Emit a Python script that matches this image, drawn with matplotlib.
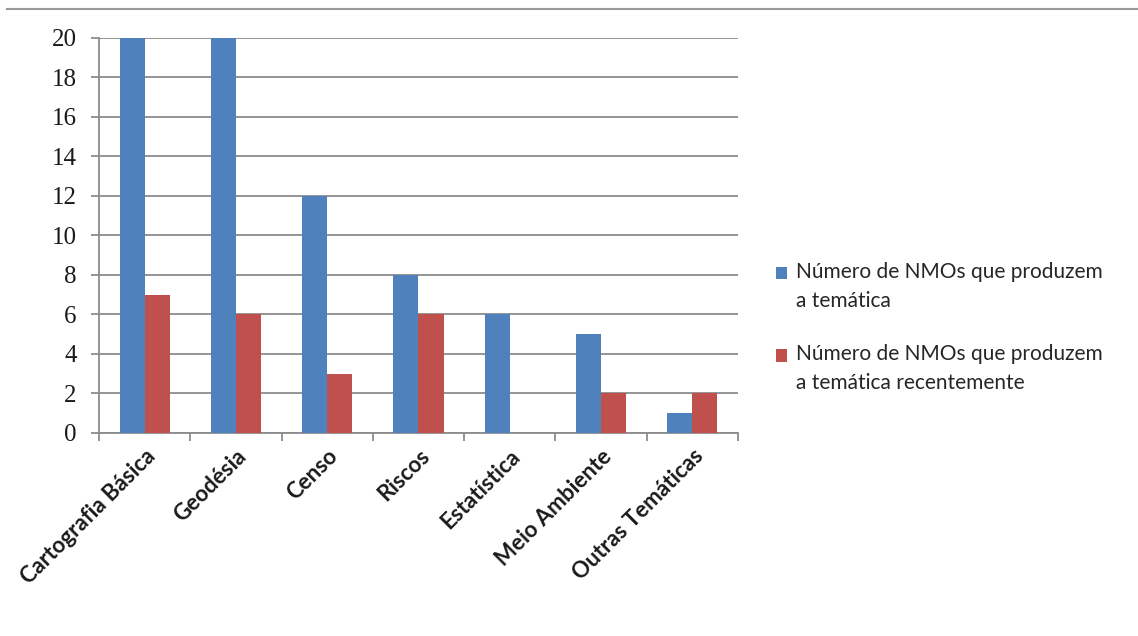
import numpy as np
import matplotlib.pyplot as plt
from matplotlib.patches import Patch, Rectangle
from matplotlib.lines import Line2D
from matplotlib.legend_handler import HandlerPatch

# Data
categories = ['Cartografia Básica', 'Geodésia', 'Censo', 'Riscos', 'Estatística',
              'Meio Ambiente', 'Outras Temáticas']
produzem = [20, 20, 12, 8, 6, 5, 1]
recentemente = [7, 6, 3, 6, 0, 2, 2]
legend_labels = ['Número de NMOs que produzem\na temática',
                 'Número de NMOs que produzem\na temática recentemente']

blue = '#4F81BD'
red = '#C0504D'
grid_gray = '#8c8c8c'


def top_square(legend, orig_handle, xdescent, ydescent, width, height, fontsize):
    # square next to the first line of a two-line label
    return Rectangle((-xdescent, -ydescent + 0.68 * fontsize), width, height)


fig = plt.figure(figsize=(11.38, 6.36), dpi=100)
ax = fig.add_axes([0.087, 0.3192, 0.5615, 0.6211])

x = np.arange(len(categories))
w = 0.275
ax.bar(x - w / 2, produzem, w, color=blue, zorder=3)
ax.bar(x + w / 2, recentemente, w, color=red, zorder=3)

ax.set_xlim(-0.5, len(categories) - 0.5)
ax.set_ylim(0, 20)
ax.set_yticks(np.arange(0, 21, 2))
ax.yaxis.grid(True, color=grid_gray, linewidth=1.3, zorder=0)

for s in ['top', 'right']:
    ax.spines[s].set_visible(False)
for s in ['left', 'bottom']:
    ax.spines[s].set_color(grid_gray)
    ax.spines[s].set_linewidth(1.3)

ax.tick_params(axis='y', length=6, color=grid_gray, width=1.3, pad=10)
for lab in ax.get_yticklabels():
    lab.set_fontfamily('Liberation Serif')
    lab.set_fontsize(18)
    lab.set_color('#1a1a1a')

# category labels at centres, tick marks at boundaries
ax.set_xticks(x)
ax.set_xticklabels(categories, rotation=45, ha='right', rotation_mode='anchor',
                   fontfamily='Lato', fontweight='bold',
                   fontsize=16, color='#1a1a1a')
ax.tick_params(axis='x', which='major', length=0, pad=9)
ax.set_xticks(np.arange(-0.5, len(categories), 1), minor=True)
ax.tick_params(axis='x', which='minor', length=6, color=grid_gray, width=1.3)

handles = [Patch(facecolor=blue), Patch(facecolor=red)]
leg = fig.legend(handles, legend_labels, loc='upper left', bbox_to_anchor=(0.665, 0.617),
                 frameon=False, prop={'family': 'Lato', 'size': 15},
                 handlelength=0.55, handleheight=0.55, handletextpad=0.45,
                 labelspacing=1.6, alignment='left',
                 handler_map={Patch: HandlerPatch(patch_func=top_square)})
for t in leg.get_texts():
    t.set_linespacing(1.55)
    t.set_color('#262626')

# thin line across the top of the image
fig.add_artist(Line2D([0.006, 1.0], [0.986, 0.986], color='#999999', linewidth=1.5))

fig.savefig('out.png', dpi=100, facecolor='white')
